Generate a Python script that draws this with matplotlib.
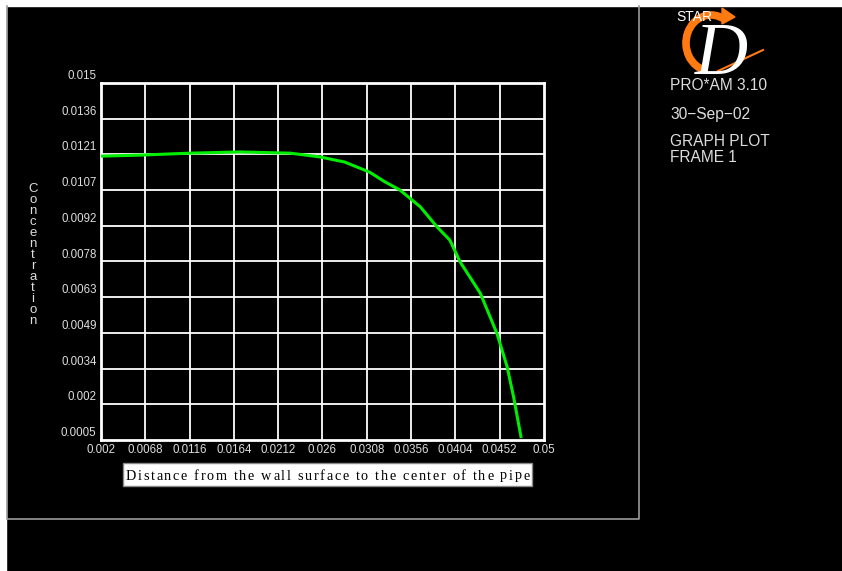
import numpy as np
import matplotlib
matplotlib.use("Agg")
import matplotlib.pyplot as plt
from matplotlib.patches import Rectangle, Arc, Polygon

## data
dist = [0.002, 0.0062, 0.0116, 0.0171, 0.0225, 0.0257, 0.0284, 0.0311, 0.0327,
        0.0344, 0.0366, 0.0384, 0.0398, 0.0409, 0.0431, 0.0449, 0.0460, 0.0467, 0.0475]
conc = [0.01203, 0.01207, 0.01215, 0.01220, 0.01215, 0.01200, 0.01179, 0.01138, 0.01100,
        0.01065, 0.00997, 0.00916, 0.00862, 0.00774, 0.00646, 0.00483, 0.00348, 0.00226, 0.00064]

xticks = [0.002, 0.0068, 0.0116, 0.0164, 0.0212, 0.026, 0.0308, 0.0356, 0.0404, 0.0452, 0.05]
xlabels = ["0.002", "0.0068", "0.0116", "0.0164", "0.0212", "0.026", "0.0308",
           "0.0356", "0.0404", "0.0452", "0.05"]
yticks = [0.0005, 0.002, 0.0034, 0.0049, 0.0063, 0.0078, 0.0092, 0.0107, 0.0121, 0.0136, 0.015]
ylabels = ["0.0005", "0.002", "0.0034", "0.0049", "0.0063", "0.0078", "0.0092",
           "0.0107", "0.0121", "0.0136", "0.015"]
ygrid = np.linspace(0.0005, 0.015, 11)
xlabel_text = "Distance from the wall surface to the center of the pipe"

W, H = 842, 571
fig = plt.figure(figsize=(W / 100, H / 100), dpi=100, facecolor="black")

## background overlay in pixel coords
bg = fig.add_axes([0, 0, 1, 1])
bg.set_xlim(0, W)
bg.set_ylim(H, 0)
bg.axis("off")
bg.add_patch(Rectangle((0, 0), W, 6, color="white"))
bg.add_patch(Rectangle((0, 0), 6, H, color="white"))
bg.plot([7, 7, 639, 639], [6, 519, 519, 6], color="#9a9a9a", lw=1.2)

## main axes
L, R, T, B = 101, 544, 83, 440
ax = fig.add_axes([L / W, 1 - B / H, (R - L) / W, (B - T) / H])
ax.set_facecolor("black")
ax.set_xlim(0.002, 0.05)
ax.set_ylim(0.0005, 0.015)
for x in xticks[1:-1]:
    ax.axvline(x, color="white", lw=1.3)
for y in ygrid[1:-1]:
    ax.axhline(y, color="white", lw=1.3)
for s in ax.spines.values():
    s.set_color("white")
    s.set_linewidth(2)
ax.set_xticks([])
ax.set_yticks([])

ax.plot(dist, conc, color="#00ee00", lw=2.2, zorder=5)

tick_font = dict(fontsize=8.3, color="#dddddd", family="Liberation Sans")
for x, lab in zip(xticks, xlabels):
    ax.text(x, -0.01, lab, transform=ax.get_xaxis_transform(), ha="center", va="top", **tick_font)
for y, lab in zip(ygrid, ylabels):
    ax.text(-0.01, y + 0.00004, lab, transform=ax.get_yaxis_transform(), ha="right", va="bottom", **tick_font)

## y label, stacked letters
bg.text(33, 255, "\n".join("Concentration"), ha="center", va="center", color="#dddddd",
        fontsize=9.5, family="Liberation Sans", linespacing=0.88)

## x label: white box, letter-spaced serif text
bx0, bx1, by0, by1 = 123, 532, 463, 486
bg.add_patch(Rectangle((bx0, by0), bx1 - bx0, by1 - by0, facecolor="white", edgecolor="#888888", lw=1))
chars = [bg.text(0, 476, c, ha="left", va="center", color="black", fontsize=10.3,
                 family="Liberation Serif") for c in xlabel_text]
renderer = fig.canvas.get_renderer()
# width of each glyph, spaces measured through a pair of letters
widths = []
for c, t in zip(xlabel_text, chars):
    if c == " ":
        t.set_text("a a")
        wa = t.get_window_extent(renderer).width
        t.set_text("aa")
        wa -= t.get_window_extent(renderer).width
        t.set_text(" ")
        widths.append(wa)
    else:
        widths.append(t.get_window_extent(renderer).width)
span = 404
gap = (span - sum(widths)) / (len(xlabel_text) - 1)
cx = 125.5
for w, t in zip(widths, chars):
    t.set_x(cx)
    cx += w + gap

## logo
bg.add_patch(Arc((711, 43), 50, 56, theta1=100, theta2=300, color="#ff7a10", lw=5.5))
bg.add_patch(Polygon([[722, 8], [735, 17], [722, 24]], color="#ff7a10"))
bg.plot([718, 763], [71, 50], color="#ff7a10", lw=1.5)
bg.text(721, 74, "D", ha="center", va="baseline", color="white", fontsize=53,
        family="Liberation Serif", style="italic")
bg.text(676, 17, "STAR", ha="left", va="center", color="white", fontsize=10, family="Liberation Sans")

side = dict(color="#dddddd", fontsize=11.2, family="Liberation Sans", ha="left", va="center")
bg.text(670, 85, "PRO*AM 3.10", **side)
bg.text(670, 114, "30\u2212Sep\u221202", **side)
bg.text(670, 142, "GRAPH PLOT", **side)
bg.text(670, 157, "FRAME 1", **side)

fig.savefig("out.png", dpi=100, facecolor="black")
